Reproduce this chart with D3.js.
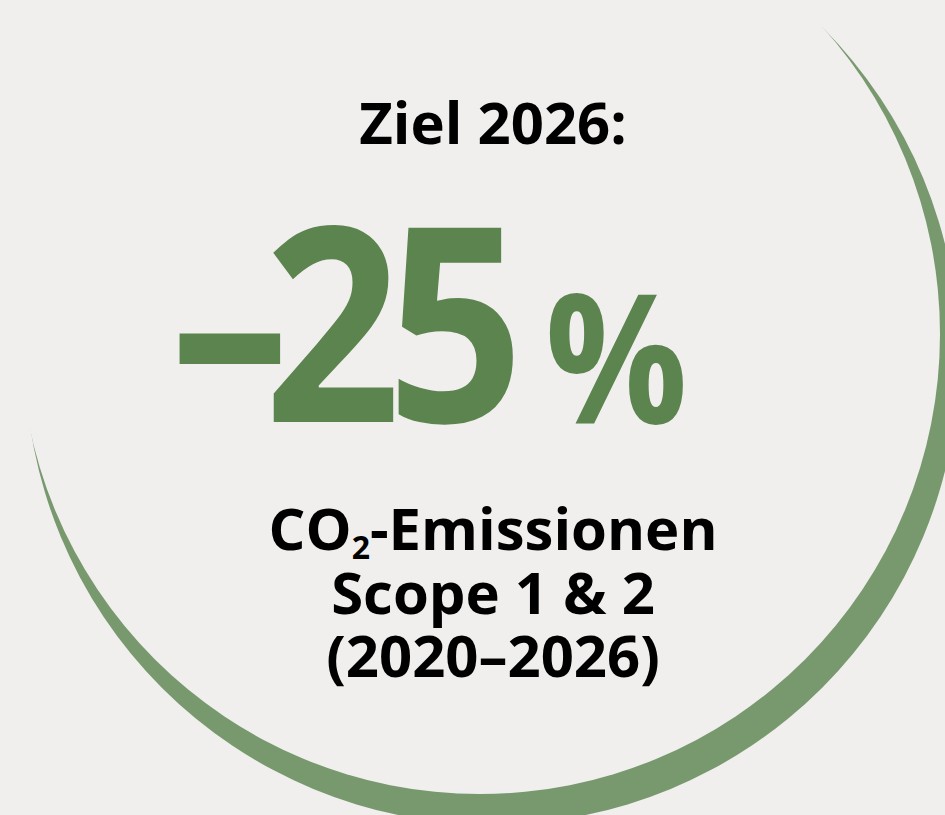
<!DOCTYPE html>
<html>
<head>
<meta charset="utf-8">
<script src="https://cdn.jsdelivr.net/npm/d3@7"></script>
<style>
  html, body { margin: 0; padding: 0; background: #f0efed; }
  svg { display: block; }
</style>
</head>
<body>
<script>
// daten
var titel = ["Ziel 2026:"];
var reduktion = [-25];            // prozent
var einheit = ["%"];
var labelZeilen = ["CO₂-Emissionen", "Scope 1 & 2", "(2020–2026)"];

// variabler
var width = 945, height = 815;
var bg = "#f0efed", gruen = "#5b844f", bogenGruen = "#78996e";
var schrift = "'Open Sans', 'Noto Sans', sans-serif";
var mitte = 493;

var svg = d3.select("body").append("svg")
    .attr("width", width)
    .attr("height", height);

svg.append("rect").attr("width", width).attr("height", height).attr("fill", bg);

// sichel: äusserer kreis, darüber der innere kreis in hintergrundfarbe
var innen = {x: 480, y: 334, r: 460};
var aussen = {x: 492, y: 357.5, r: 467};
svg.append("circle")
    .attr("cx", aussen.x).attr("cy", aussen.y).attr("r", aussen.r)
    .attr("fill", bogenGruen);
svg.append("circle")
    .attr("cx", innen.x).attr("cy", innen.y).attr("r", innen.r)
    .attr("fill", bg);

// titel
svg.append("text")
    .attr("x", mitte).attr("y", 144)
    .attr("text-anchor", "middle")
    .style("font-family", schrift).style("font-weight", 700).style("font-size", "58px")
    .attr("fill", "#000")
    .text(titel[0]);

// grosse zahl, mit gedankenstrich als minus
var locale = d3.formatLocale({decimal: ",", thousands: ".", grouping: [3], currency: ["", "€"], minus: "\u2013"});
var fmt = locale.format("d");

var gross = svg.append("g").attr("transform", "translate(170,422) scale(0.88,1)");
gross.append("text")
    .attr("x", 0).attr("y", 0)
    .attr("dx", "0 -29 -16")       // eng gesetzt wie im original
    .style("font-family", schrift).style("font-weight", 700).style("font-size", "272px")
    .attr("fill", gruen)
    .text(fmt(reduktion[0]));
gross.append("text")
    .attr("x", 426).attr("y", 1)
    .style("font-family", schrift).style("font-weight", 700).style("font-size", "180px")
    .attr("fill", gruen)
    .text(einheit[0]);

// beschriftung unten
var zeileY = d3.scaleLinear().domain([0, labelZeilen.length - 1]).range([550, 677]);

var zeilen = svg.selectAll("text.zeile").data(labelZeilen).enter()
    .append("text")
    .attr("class", "zeile")
    .attr("x", mitte)
    .attr("y", function(d, i){ return zeileY(i); })
    .attr("text-anchor", "middle")
    .style("font-family", schrift).style("font-weight", 700).style("font-size", "58px")
    .attr("fill", "#000");

// tiefgestellte 2 als eigenes tspan
zeilen.each(function(d){
    var teile = d.split("₂");
    var t = d3.select(this);
    teile.forEach(function(teil, j){
        if (j > 0) {
            t.append("tspan").attr("dy", 9).style("font-size", "32px").text("2");
            t.append("tspan").attr("dy", -9).text(teil);
        } else {
            t.append("tspan").text(teil);
        }
    });
});
</script>
</body>
</html>
